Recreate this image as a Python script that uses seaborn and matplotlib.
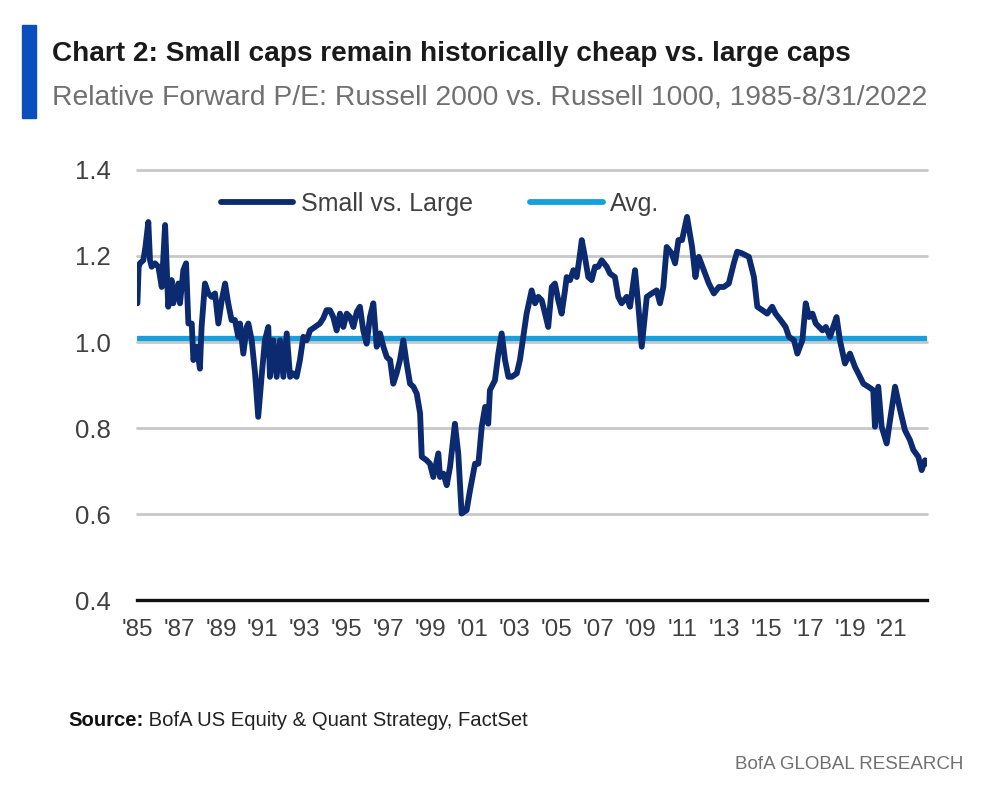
import matplotlib
matplotlib.use("Agg")
import matplotlib.pyplot as plt
from matplotlib.patches import Rectangle
import seaborn as sns
import pandas as pd

# ---- data ----
years = [
    1985.02, 1985.08, 1985.14, 1985.30, 1985.40, 1985.54, 1985.62, 1985.70, 1985.86, 1986.02,
    1986.18, 1986.34, 1986.49, 1986.65, 1986.73, 1986.97, 1987.05, 1987.21, 1987.34, 1987.45,
    1987.61, 1987.69, 1987.85, 1988.00, 1988.08, 1988.24, 1988.40, 1988.56, 1988.72, 1988.88,
    1989.04, 1989.20, 1989.35, 1989.51, 1989.67, 1989.83, 1989.91, 1990.07, 1990.23, 1990.31,
    1990.47, 1990.63, 1990.78, 1990.94, 1991.10, 1991.26, 1991.34, 1991.50, 1991.66, 1991.82,
    1991.98, 1992.14, 1992.30, 1992.45, 1992.61, 1992.77, 1992.93, 1993.09, 1993.25, 1993.49,
    1993.72, 1993.88, 1994.04, 1994.20, 1994.36, 1994.52, 1994.68, 1994.84, 1995.00, 1995.16,
    1995.32, 1995.48, 1995.63, 1995.79, 1995.95, 1996.11, 1996.27, 1996.43, 1996.59, 1996.75,
    1996.91, 1997.07, 1997.22, 1997.38, 1997.54, 1997.70, 1997.86, 1998.02, 1998.18, 1998.34,
    1998.50, 1998.58, 1998.81, 1998.97, 1999.13, 1999.37, 1999.45, 1999.61, 1999.77, 1999.93,
    2000.16, 2000.32, 2000.48, 2000.72, 2000.88, 2001.12, 2001.28, 2001.44, 2001.60, 2001.75,
    2001.83, 2002.07, 2002.23, 2002.39, 2002.55, 2002.71, 2002.87, 2003.11, 2003.26, 2003.42,
    2003.58, 2003.82, 2003.98, 2004.14, 2004.30, 2004.46, 2004.61, 2004.78, 2004.93, 2005.09,
    2005.25, 2005.41, 2005.49, 2005.65, 2005.81, 2005.97, 2006.13, 2006.21, 2006.36, 2006.52,
    2006.68, 2006.84, 2007.00, 2007.16, 2007.40, 2007.56, 2007.79, 2007.95, 2008.11, 2008.35,
    2008.51, 2008.75, 2008.91, 2009.07, 2009.31, 2009.55, 2009.78, 2009.94, 2010.10, 2010.26,
    2010.50, 2010.66, 2010.82, 2010.99, 2011.23, 2011.47, 2011.63, 2011.79, 2012.03, 2012.27,
    2012.51, 2012.75, 2012.98, 2013.22, 2013.46, 2013.62, 2013.86, 2014.18, 2014.42, 2014.58,
    2014.82, 2015.05, 2015.29, 2015.45, 2015.69, 2015.93, 2016.09, 2016.33, 2016.49, 2016.73,
    2016.89, 2017.05, 2017.21, 2017.37, 2017.53, 2017.69, 2017.85, 2018.05, 2018.20, 2018.36,
    2018.52, 2018.76, 2019.00, 2019.24, 2019.48, 2019.64, 2019.87, 2020.11, 2020.19, 2020.35,
    2020.51, 2020.75, 2020.91, 2021.15, 2021.39, 2021.62, 2021.86, 2022.02, 2022.26, 2022.42,
    2022.58, 2022.66,
]
small_vs_large = [
    1.090, 1.175, 1.183, 1.190, 1.220, 1.279, 1.190, 1.175, 1.183, 1.175,
    1.128, 1.272, 1.082, 1.144, 1.090, 1.136, 1.090, 1.167, 1.183, 1.043,
    1.043, 0.958, 0.989, 0.938, 1.035, 1.136, 1.113, 1.105, 1.113, 1.043,
    1.097, 1.136, 1.090, 1.051, 1.051, 1.012, 1.043, 0.973, 1.035, 1.043,
    1.004, 0.927, 0.826, 0.919, 1.004, 1.035, 0.919, 1.004, 0.919, 1.004,
    0.919, 1.020, 0.919, 0.927, 0.919, 0.958, 1.012, 1.004, 1.027, 1.035,
    1.043, 1.055, 1.074, 1.074, 1.058, 1.027, 1.066, 1.035, 1.066, 1.058,
    1.035, 1.070, 1.082, 1.027, 0.996, 1.058, 1.090, 0.989, 1.020, 0.989,
    0.965, 0.958, 0.903, 0.927, 0.958, 1.004, 0.950, 0.903, 0.896, 0.880,
    0.834, 0.733, 0.725, 0.717, 0.686, 0.741, 0.686, 0.694, 0.667, 0.710,
    0.810, 0.741, 0.601, 0.609, 0.655, 0.717, 0.717, 0.803, 0.849, 0.810,
    0.888, 0.911, 0.973, 1.020, 0.958, 0.919, 0.919, 0.927, 0.958, 1.012,
    1.066, 1.120, 1.090, 1.105, 1.097, 1.066, 1.035, 1.128, 1.136, 1.097,
    1.066, 1.120, 1.151, 1.144, 1.167, 1.151, 1.206, 1.237, 1.198, 1.151,
    1.144, 1.175, 1.175, 1.190, 1.175, 1.159, 1.151, 1.105, 1.090, 1.105,
    1.082, 1.167, 1.082, 0.989, 1.105, 1.113, 1.120, 1.090, 1.128, 1.221,
    1.206, 1.183, 1.237, 1.237, 1.291, 1.221, 1.151, 1.198, 1.167, 1.136,
    1.113, 1.128, 1.128, 1.136, 1.183, 1.210, 1.206, 1.198, 1.151, 1.082,
    1.074, 1.066, 1.082, 1.066, 1.051, 1.035, 1.012, 1.004, 0.973, 1.004,
    1.090, 1.058, 1.066, 1.043, 1.035, 1.027, 1.035, 1.012, 1.035, 1.058,
    1.004, 0.950, 0.973, 0.942, 0.919, 0.903, 0.896, 0.888, 0.803, 0.896,
    0.803, 0.764, 0.818, 0.896, 0.842, 0.795, 0.772, 0.749, 0.733, 0.702,
    0.725, 0.717,
]
avg_value = 1.01
series_labels = ["Small vs. Large", "Avg."]
y_ticks = [0.4, 0.6, 0.8, 1.0, 1.2, 1.4]
x_tick_years = list(range(1985, 2022, 2))
x_tick_labels = ["'" + str(y)[-2:] for y in x_tick_years]

title = "Chart 2: Small caps remain historically cheap vs. large caps"
subtitle = "Relative Forward P/E: Russell 2000 vs. Russell 1000, 1985-8/31/2022"
source_bold = "Source:"
source_rest = " BofA US Equity & Quant Strategy, FactSet"
brand = "BofA GLOBAL RESEARCH"

# ---- styling ----
sns.set_theme(style="white")
FONT = ["Liberation Sans Narrow", "Liberation Sans", "DejaVu Sans"]
plt.rcParams["font.family"] = FONT

NAVY = "#0B2A6F"
LIGHT_BLUE = "#16A0DD"
GRID = "#C8C8C8"
TEXT = "#404040"

W, H = 1000, 795
fig = plt.figure(figsize=(W / 100, H / 100), dpi=100)
ax = fig.add_axes([137 / W, 1 - 600 / H, (927 - 137) / W, (600 - 170) / H])

df = pd.DataFrame({"year": years, "value": small_vs_large})
df_avg = pd.DataFrame({"year": [years[0], years[-1]], "value": [avg_value, avg_value]})

for yv in y_ticks[1:]:
    ax.axhline(yv, color=GRID, lw=2.0, zorder=1, clip_on=False)

sns.lineplot(data=df_avg, x="year", y="value", ax=ax, color=LIGHT_BLUE, lw=3.8,
             label=series_labels[1], zorder=2)
sns.lineplot(data=df, x="year", y="value", ax=ax, color=NAVY, lw=4.2,
             label=series_labels[0], zorder=3)

ax.set_xlim(1985, 1985 + 790 / 20.97)
ax.set_ylim(0.4, 1.4)
ax.set_yticks(y_ticks)
ax.set_yticklabels([f"{v:.1f}" for v in y_ticks])
ax.set_xticks(x_tick_years)
ax.set_xticklabels(x_tick_labels)
ax.tick_params(axis="y", length=0, pad=19, labelsize=18.5, labelcolor=TEXT)
ax.tick_params(axis="x", length=0, pad=14, labelsize=17.5, labelcolor=TEXT)
ax.set_xlabel("")
ax.set_ylabel("")
for s in ["top", "left", "right"]:
    ax.spines[s].set_visible(False)
ax.spines["bottom"].set_color("#111111")
ax.spines["bottom"].set_linewidth(2.4)
ax.grid(False)

handles, labels = ax.get_legend_handles_labels()
order = [labels.index(series_labels[0]), labels.index(series_labels[1])]
leg = ax.legend([handles[i] for i in order], [labels[i] for i in order],
                ncol=2, loc="center", bbox_to_anchor=((440 - 137) / 790, (600 - 204) / 430),
                frameon=False, fontsize=18, handlelength=2.9, handletextpad=0.3,
                columnspacing=2.3, labelcolor=TEXT)
for lh in leg.get_lines():
    lh.set_linewidth(4.2)

# ---- titles & notes ----
fig.patches.append(Rectangle((22 / W, 1 - 118 / H), 14 / W, 93 / H,
                             transform=fig.transFigure, color="#0A4FC0", zorder=5))
fig.text(52 / W, 1 - 61 / H, title, fontsize=20.2, fontweight="bold", color="#1A1A1A",
         va="baseline", ha="left")
fig.text(52 / W, 1 - 104 / H, subtitle, fontsize=20.3, color="#707070",
         va="baseline", ha="left")

t1 = fig.text(68 / W, 1 - 726 / H, source_bold, fontsize=14.6, fontweight="bold",
              color="#111111", va="baseline", ha="left")
fig.canvas.draw()
bb = t1.get_window_extent(renderer=fig.canvas.get_renderer())
fig.text(bb.x1 / W, 1 - 726 / H, source_rest, fontsize=14.6, color="#222222",
         va="baseline", ha="left")
fig.text(963 / W, 1 - 769 / H, brand, fontsize=13.5, color="#707070",
         va="baseline", ha="right")

fig.savefig("out.png", dpi=100)
